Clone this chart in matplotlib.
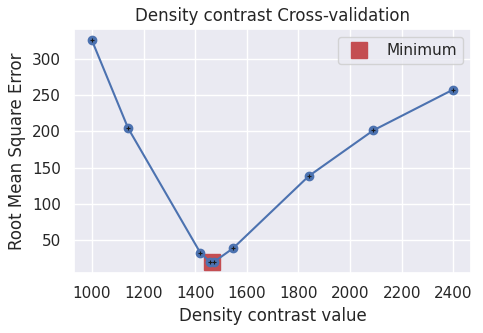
import matplotlib
matplotlib.use("Agg")
import matplotlib.pyplot as plt
import seaborn as sns
import numpy as np

sns.set(color_codes=True)

# cross-validation results
densities = [1000, 1140, 1420, 1458, 1472, 1547, 1840, 2090, 2398]
scores = [325.5, 204.5, 32.5, 20.0, 20.0, 39.0, 138.5, 201.5, 257.5]

best = int(np.argmin(scores))

fig = plt.figure(figsize=(4.83, 3.33), dpi=100)
ax = fig.add_axes([0.153, 0.180, 0.822, 0.732])
ax.plot(densities[best] + 7, scores[best], "rs", markersize=11, label="Minimum")
ax.plot(densities, scores, "bo-")
ax.plot(densities, scores, "k+", markersize=2.5, markeredgewidth=0.8)
ax.legend(loc="upper right", numpoints=1)
ax.set_title("Density contrast Cross-validation")
ax.set_xlabel("Density contrast value")
ax.set_ylabel("Root Mean Square Error")
ax.set_xticks(np.arange(1000, 2401, 200))
ax.set_yticks(np.arange(50, 301, 50))

fig.savefig("out.png", dpi=100)
